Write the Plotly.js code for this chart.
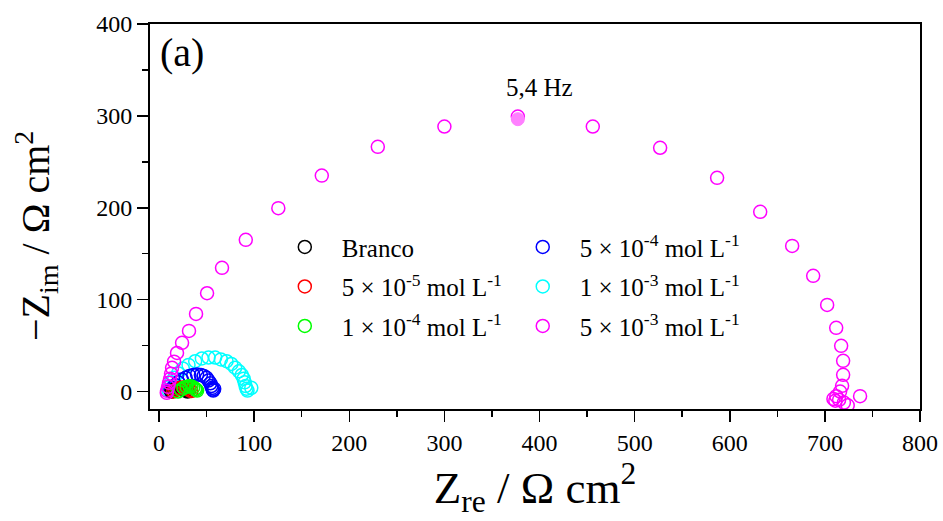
<!DOCTYPE html>
<html>
<head>
<meta charset="utf-8">
<script src="https://cdn.plot.ly/plotly-3.0.1.min.js"></script>
<style>html,body{margin:0;padding:0;background:#fff;}#chart{width:943px;height:521px;}</style>
</head>
<body>
<div id="chart"></div>
<script>
// Series names
const seriesNames = ["Branco",
  "5 × 10<sup>-5</sup> mol L<sup>-1</sup>",
  "1 × 10<sup>-4</sup> mol L<sup>-1</sup>",
  "5 × 10<sup>-4</sup> mol L<sup>-1</sup>",
  "1 × 10<sup>-3</sup> mol L<sup>-1</sup>",
  "5 × 10<sup>-3</sup> mol L<sup>-1</sup>"];
const xTitle = "Z<sub>re</sub> / Ω cm<sup>2</sup>";
const yTitle = "−Z<sub>im</sub> / Ω cm<sup>2</sup>";
const panelLabel = "(a)";

// Branco
const brancoX = [13, 14, 16, 18, 20, 22, 24, 26, 28, 30];
const brancoY = [0, 1, 2, 2.5, 3, 3, 2.5, 2, 1, 0];
// 5e-5
const c5e5X = [15, 17, 19, 22, 25, 28, 30, 32, 34];
const c5e5Y = [0, 1.5, 3, 4, 4.5, 4, 3, 1.5, 0.5];
// 1e-4
const c1e4X = [20, 23, 26, 29, 32, 34, 36, 38, 39, 40];
const c1e4Y = [0, 2, 4, 5, 6, 5.5, 4.5, 3, 2, 1];
// 5e-4
const c5e4X = [12, 14, 17, 20, 24, 28, 32, 36, 40, 44, 47, 50, 52, 54, 55, 56, 56.5, 57, 58];
const c5e4Y = [1, 4, 7, 10, 13, 15, 17, 18, 18.5, 18, 17, 15, 12, 9, 6, 4, 2, 1, 3];
// 1e-3
const c1e3X = [10, 11, 13, 16, 20, 25, 31, 38, 45, 52, 59, 65, 71, 76, 80, 84, 87, 89, 90, 91, 92, 93, 97];
const c1e3Y = [1, 5, 10, 15, 20, 25, 29, 33, 36, 37, 37, 35, 33, 30, 26, 22, 18, 14, 10, 6, 3, 1, 4];
// 5e-3
const c5e3X = [8.1, 8.4, 9.5, 10.5, 11.6, 12.6, 13.7, 15.8, 18.9, 24.2, 31.5, 38.9, 50.5, 66.2, 91.2, 125.4, 171.1, 230.0, 300.0, 377.2, 456.0, 526.8, 586.7, 632.0, 665.6, 687.7, 702.4, 711.9, 717.1, 719.2, 719.2, 718.1, 716, 712, 709, 711, 715, 720, 724, 737];
const c5e3Y = [-1.4, 0.8, 5.1, 9.5, 13.8, 19.3, 25.8, 32.5, 42, 53, 66, 84.5, 107, 134.6, 165.1, 199.6, 235.0, 266.3, 288.4, 299.2, 288.4, 265.3, 232.6, 195.6, 158.5, 125.9, 94.3, 69.3, 49.7, 33.4, 18.2, 6.2, 0, -5, -8, -10, -9, -12, -15, -5];
// highlighted point (5,4 Hz)
const hzX = [377.2];
const hzY = [296.4];
const hzLabel = "5,4 Hz";

const colors = ["#000000", "#ff0000", "#00ff00", "#0000ff", "#00ffff", "#ff00ff"];
const FONT = "Liberation Serif";

function tr(x, y, i, legend, rank) {
  return {
    x: x, y: y, type: "scatter", mode: "markers", name: seriesNames[i],
    legend: legend, legendrank: rank, legendgroup: "g" + i,
    marker: {symbol: "circle-open", size: 13, color: colors[i], line: {width: 1.5, color: colors[i]}},
    hoverinfo: "x+y"
  };
}

const data = [
  tr(c1e3X, c1e3Y, 4, "legend2", 2),
  tr(c5e4X, c5e4Y, 3, "legend2", 1),
  tr(brancoX, brancoY, 0, "legend", 1),
  tr(c5e5X, c5e5Y, 1, "legend", 2),
  tr(c1e4X, c1e4Y, 2, "legend", 3),
  tr(c5e3X, c5e3Y, 5, "legend2", 3),
  {x: hzX, y: hzY, type: "scatter", mode: "markers", showlegend: false,
   marker: {symbol: "circle", size: 13, color: "#ff80ff", line: {width: 1, color: "#ff80ff"}}}
];

const axisCommon = {
  showgrid: false, zeroline: false, showline: true, linecolor: "#000", linewidth: 2,
  mirror: true, ticks: "outside", ticklen: 11, tickwidth: 1.5, tickcolor: "#000",
  tickfont: {family: FONT, size: 24, color: "#000"},
  minor: {ticks: "outside", ticklen: 6, tickwidth: 1.5, tickcolor: "#000", dtick: 50},
  automargin: false
};

const legendCommon = {xanchor: "left", yanchor: "top", bgcolor: "rgba(0,0,0,0)",
  font: {family: FONT, size: 25, color: "#000"}, itemwidth: 64,
  traceorder: "grouped", tracegroupgap: 4};

const layout = {
  width: 943, height: 521,
  margin: {l: 150, r: 23, t: 24, b: 112},
  paper_bgcolor: "#fff", plot_bgcolor: "#fff",
  font: {family: FONT, color: "#000"},
  xaxis: Object.assign({}, axisCommon, {
    range: [-9.5, 800], tick0: 0, dtick: 100,
    title: {text: xTitle, font: {family: FONT, size: 45, color: "#000"}, standoff: 12}
  }),
  yaxis: Object.assign({}, axisCommon, {
    range: [-19, 400], tick0: 0, dtick: 100
  }),
  legend: Object.assign({x: 0.153, y: 0.48}, legendCommon),
  legend2: Object.assign({x: 0.462, y: 0.48}, legendCommon),
  annotations: [
    {xref: "paper", yref: "paper", x: 0.01, y: 0.99, xanchor: "left", yanchor: "top",
     text: panelLabel, showarrow: false, font: {family: FONT, size: 40, color: "#000"}},
    {xref: "x", yref: "y", x: hzX[0], y: hzY[0], yshift: 32, xshift: 22, text: hzLabel, showarrow: false,
     font: {family: FONT, size: 25, color: "#000"}},
    {xref: "paper", yref: "paper", x: -0.149, y: 0.45, xanchor: "center", yanchor: "middle",
     textangle: -90, text: yTitle, showarrow: false, font: {family: FONT, size: 40, color: "#000"}}
  ],
  showlegend: true
};

Plotly.newPlot("chart", data, layout, {displayModeBar: false, staticPlot: true});
</script>
</body>
</html>
